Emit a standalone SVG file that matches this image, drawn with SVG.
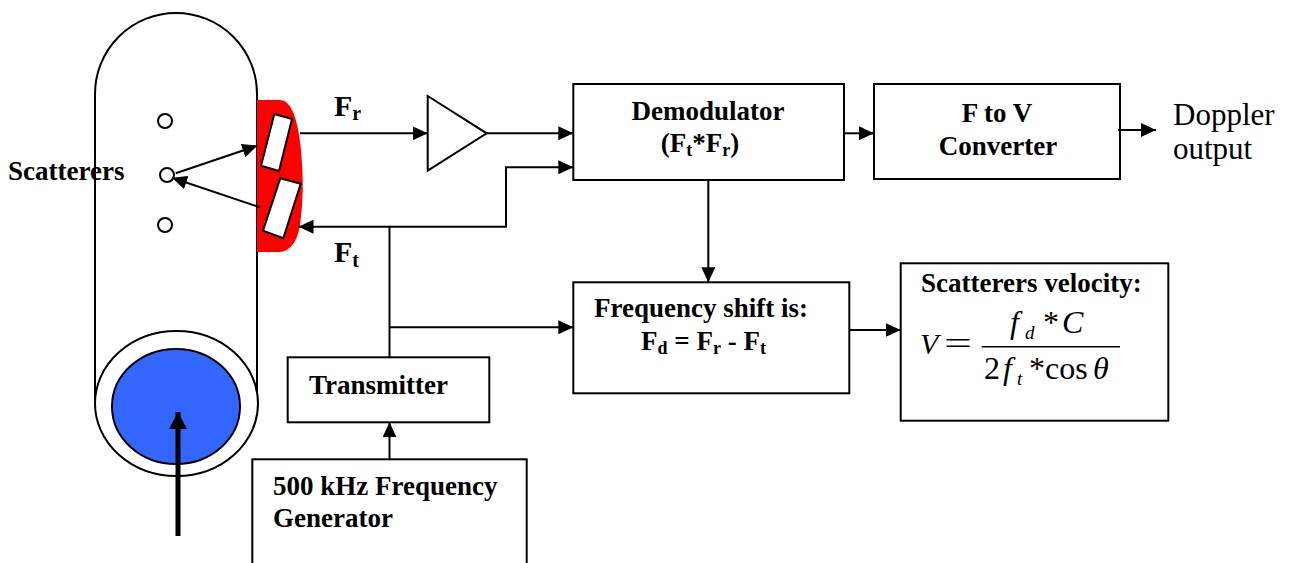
<svg xmlns="http://www.w3.org/2000/svg" width="1291" height="563" viewBox="0 0 1291 563">
  <defs>
    <marker id="head" markerUnits="userSpaceOnUse" markerWidth="16" markerHeight="14" refX="15" refY="7" orient="auto">
      <path d="M0,0 L15,7 L0,14 Z" fill="#000"/>
    </marker>
    <marker id="bighead" markerUnits="userSpaceOnUse" markerWidth="18" markerHeight="18" refX="17" refY="9" orient="auto">
      <path d="M0,0 L17,9 L0,18 Z" fill="#000"/>
    </marker>
    <style>
      .box { fill: #fff; stroke: #000; stroke-width: 2; }
      .wire { fill: none; stroke: #000; stroke-width: 2; }
      .lbl { font-family: "Liberation Serif", "Times New Roman", serif; font-weight: bold; font-size: 27px; fill: #000; }
      .sig { font-family: "Liberation Serif", "Times New Roman", serif; font-weight: bold; font-size: 30px; fill: #000; }
      .plain { font-family: "Liberation Serif", "Times New Roman", serif; font-size: 31px; fill: #000; }
      .math { font-family: "Liberation Serif", "Times New Roman", serif; font-size: 32px; fill: #000; }
      .it { font-style: italic; }
      .sub { font-size: 18px; }
      .msub { font-family: "Liberation Serif", "Times New Roman", serif; font-size: 19px; font-style: italic; fill: #000; }
    </style>
  </defs>
  <rect width="1291" height="563" fill="#fff"/>

  <!-- vessel with scatterers -->
  <g id="vessel">
    <path d="M95,400 L95,94 A81,81 0 0 1 257,94 L257,400" class="wire"/>
    <ellipse cx="176.5" cy="403.5" rx="81.5" ry="72.5" fill="#fff" stroke="#000" stroke-width="2"/>
    <ellipse cx="176" cy="406.5" rx="64" ry="57.5" fill="#3366FF" stroke="#000" stroke-width="2"/>
    <circle cx="165" cy="121" r="7" fill="#fff" stroke="#000" stroke-width="2"/>
    <circle cx="167" cy="175" r="7" fill="#fff" stroke="#000" stroke-width="2"/>
    <circle cx="165" cy="225" r="7" fill="#fff" stroke="#000" stroke-width="2"/>
    <text class="lbl" x="8" y="180">Scatterers</text>
  </g>

  <!-- probe head -->
  <g id="probe">
    <path d="M257,100 L280,100 Q296,100 301,150 Q305,190 300,225 Q296,250 280,252 L257,252 Z" fill="#FF0000"/>
    <polygon points="274.3,114 292,119 279,171 261,165.7" fill="#fff" stroke="#000" stroke-width="2"/>
    <polygon points="280.3,178.3 300.7,183.7 283.3,238.3 263,230.7" fill="#fff" stroke="#000" stroke-width="2"/>
  </g>

  <!-- flow direction -->
  <g id="flow">
    <line x1="178" y1="536" x2="178" y2="412" stroke="#000" stroke-width="5" marker-end="url(#bighead)"/>
  </g>

  <!-- amplifier -->
  <g id="amplifier">
    <polygon points="427.7,96 486.7,133.3 427.7,170.7" class="box"/>
  </g>

  <g id="demodulator">
    <rect x="573.3" y="84" width="270.7" height="96" class="box"/>
    <text class="lbl" x="708" y="120" text-anchor="middle">Demodulator</text>
    <text class="lbl" x="700" y="152" text-anchor="middle">(F<tspan class="sub" dy="4">t</tspan><tspan dy="-4">*F</tspan><tspan class="sub" dy="4">r</tspan><tspan dy="-4">)</tspan></text>
  </g>

  <g id="converter">
    <rect x="874" y="84" width="246" height="95" class="box"/>
    <text class="lbl" x="997" y="122" text-anchor="middle">F to V</text>
    <text class="lbl" x="998" y="155" text-anchor="middle">Converter</text>
  </g>

  <g id="output">
    <text class="plain" x="1173" y="125">Doppler</text>
    <text class="plain" x="1173" y="159">output</text>
  </g>

  <g id="shift">
    <rect x="573.3" y="282.3" width="276" height="111" class="box"/>
    <text class="lbl" x="594" y="317">Frequency shift is:</text>
    <text class="lbl" x="641" y="350">F<tspan class="sub" dy="4">d</tspan><tspan dy="-4"> = F</tspan><tspan class="sub" dy="4">r</tspan><tspan dy="-4"> - F</tspan><tspan class="sub" dy="4">t</tspan></text>
  </g>

  <g id="velocity">
    <rect x="900.7" y="263.3" width="267.6" height="157.4" class="box"/>
    <text class="lbl" x="921" y="292">Scatterers velocity:</text>
    <text class="math it" x="920" y="354" style="font-size:30px">V</text>
    <text class="math" x="944" y="354" textLength="28" lengthAdjust="spacingAndGlyphs">=</text>
    <line x1="981.7" y1="346.7" x2="1120" y2="346.7" stroke="#000" stroke-width="1.5"/>
    <text class="math it" x="1010" y="333">f</text>
    <text class="msub" x="1025" y="339">d</text>
    <text class="math" x="1043" y="333">*</text>
    <text class="math it" x="1062" y="333">C</text>
    <text class="math" x="984" y="379">2</text>
    <text class="math it" x="1003" y="379">f</text>
    <text class="msub" x="1017" y="385">t</text>
    <text class="math" x="1029" y="379">*</text>
    <text class="math" x="1045" y="379">cos</text>
    <text class="math it" x="1093" y="379">θ</text>
  </g>

  <g id="transmitter">
    <rect x="287.7" y="357.3" width="201.6" height="65" class="box"/>
    <text class="lbl" x="309" y="394">Transmitter</text>
  </g>

  <g id="generator">
    <rect x="252.3" y="459.3" width="274.4" height="120" class="box"/>
    <text class="lbl" x="273" y="495">500 kHz Frequency</text>
    <text class="lbl" x="273" y="527">Generator</text>
  </g>

  <!-- signal labels -->
  <g id="labels">
    <text class="sig" x="334" y="116">F<tspan class="sub" style="font-size:20px" dy="4">r</tspan></text>
    <text class="sig" x="334" y="262">F<tspan class="sub" style="font-size:20px" dy="5">t</tspan></text>
  </g>

  <g id="connectors">
    <line x1="175.7" y1="173.3" x2="257.3" y2="145.7" class="wire" marker-end="url(#head)"/>
    <line x1="260" y1="207.3" x2="172" y2="177.7" class="wire" marker-end="url(#head)"/>
    <line x1="300" y1="133.3" x2="427.7" y2="133.3" class="wire" marker-end="url(#head)"/>
    <line x1="486.7" y1="133.3" x2="573.3" y2="133.3" class="wire" marker-end="url(#head)"/>
    <line x1="844" y1="133.3" x2="874" y2="133.3" class="wire" marker-end="url(#head)"/>
    <line x1="1118" y1="130" x2="1156" y2="130" class="wire" marker-end="url(#head)"/>
    <polyline points="389.5,357.3 389.5,226.7 298.5,226.7" class="wire" marker-end="url(#head)"/>
    <polyline points="389.5,226.7 506,226.7 506,167.3 573.3,167.3" class="wire" marker-end="url(#head)"/>
    <line x1="389.5" y1="327.3" x2="573.3" y2="327.3" class="wire" marker-end="url(#head)"/>
    <line x1="708.3" y1="180" x2="708.3" y2="282.3" class="wire" marker-end="url(#head)"/>
    <line x1="849.3" y1="330" x2="900.7" y2="330" class="wire" marker-end="url(#head)"/>
    <line x1="389.5" y1="459.3" x2="389.5" y2="422.3" class="wire" marker-end="url(#head)"/>
  </g>
</svg>
